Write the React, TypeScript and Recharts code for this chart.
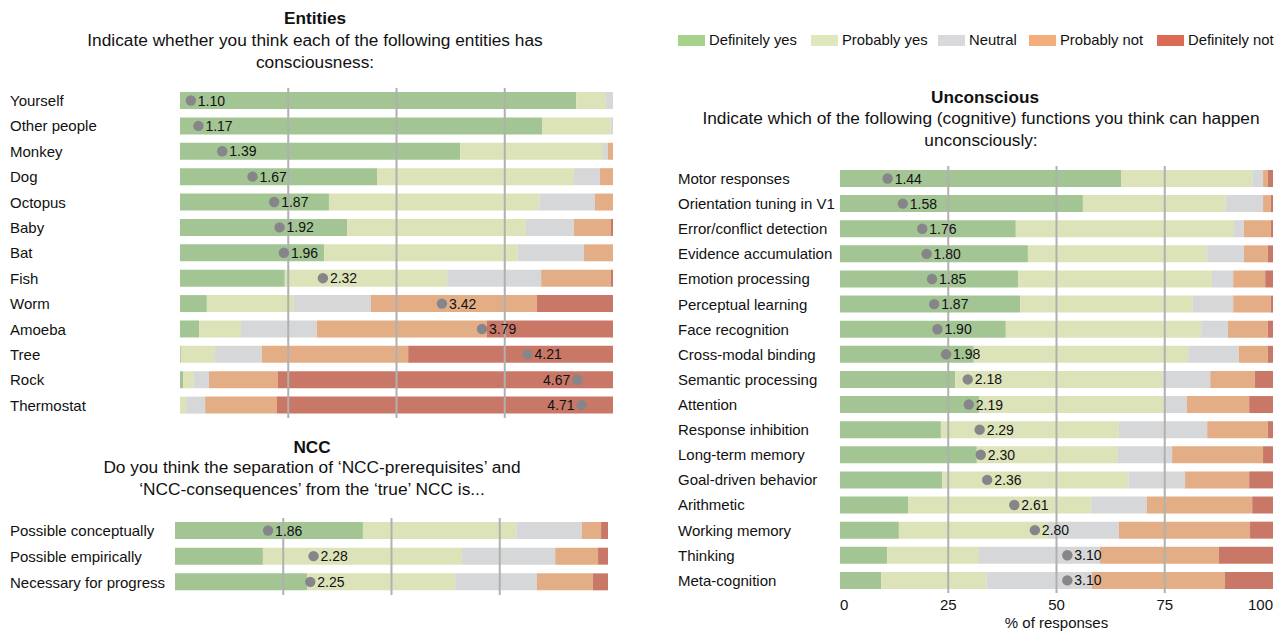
import React from 'react';
import { ComposedChart, Bar, XAxis, YAxis, ReferenceLine, Rectangle, LabelList } from 'recharts';

const levels = ['Definitely yes', 'Probably yes', 'Neutral', 'Probably not', 'Definitely not'];
const levelKeys = ['dy', 'py', 'n', 'pn', 'dn'];
const barColors = ['#a3c594', '#dde3b9', '#d6d7d8', '#e3ae86', '#c97868'];
const legendColors = ['#a6d28b', '#dfe7bc', '#d9d9dc', '#f3ae7b', '#dc6a55'];
const legendLeft = [678, 811, 938, 1029, 1157];
const gridTicks = [25, 50, 75];
const axisTicks = [0, 25, 50, 75, 100];

// Entities panel (% of responses)
const entityNames = ['Yourself', 'Other people', 'Monkey', 'Dog', 'Octopus', 'Baby', 'Bat', 'Fish', 'Worm', 'Amoeba', 'Tree', 'Rock', 'Thermostat'];
const entityDY = [91.5, 83.6, 64.7, 45.5, 34.4, 38.6, 33.3, 24.2, 6.2, 4.4, 0.2, 0.7, 0];
const entityPY = [6.9, 15.9, 33.0, 45.5, 48.6, 41.3, 44.7, 37.5, 20.1, 9.7, 7.9, 2.5, 1.4];
const entityN = [1.6, 0.5, 1.1, 6.0, 12.8, 11.1, 15.3, 21.7, 17.8, 17.5, 10.8, 3.5, 4.4];
const entityPN = [0, 0, 1.2, 3.0, 4.2, 8.5, 6.7, 16.1, 38.3, 39.3, 33.8, 15.9, 16.6];
const entityDN = [0, 0, 0, 0, 0, 0.5, 0, 0.5, 17.6, 29.1, 47.3, 77.4, 77.6];
const entityMean = [1.10, 1.17, 1.39, 1.67, 1.87, 1.92, 1.96, 2.32, 3.42, 3.79, 4.21, 4.67, 4.71];

// NCC panel
const nccNames = ['Possible conceptually', 'Possible empirically', 'Necessary for progress'];
const nccDY = [43.4, 20.3, 30.5];
const nccPY = [35.4, 46.0, 34.2];
const nccN = [15.2, 21.5, 18.9];
const nccPN = [4.4, 9.9, 12.9];
const nccDN = [1.6, 2.3, 3.5];
const nccMean = [1.86, 2.28, 2.25];

// Unconscious panel
const uncNames = ['Motor responses', 'Orientation tuning in V1', 'Error/conflict detection', 'Evidence accumulation', 'Emotion processing', 'Perceptual learning', 'Face recognition', 'Cross-modal binding', 'Semantic processing', 'Attention', 'Response inhibition', 'Long-term memory', 'Goal-driven behavior', 'Arithmetic', 'Working memory', 'Thinking', 'Meta-cognition'];
const uncDY = [64.9, 56.1, 40.6, 43.4, 41.1, 41.6, 38.3, 30.9, 26.6, 32.1, 23.3, 31.6, 23.6, 15.7, 13.6, 10.9, 9.5];
const uncPY = [30.3, 33.0, 50.4, 41.4, 44.8, 39.9, 45.1, 49.5, 47.8, 42.7, 41.1, 32.6, 43.1, 42.3, 34.4, 21.2, 24.4];
const uncN = [2.5, 8.6, 2.3, 8.5, 4.9, 9.3, 6.2, 11.7, 11.1, 5.3, 20.4, 12.5, 13.0, 12.9, 16.4, 27.9, 24.3];
const uncPN = [1.1, 1.8, 6.2, 5.5, 7.4, 8.7, 9.2, 6.7, 10.3, 14.4, 14.0, 21.0, 14.8, 24.3, 30.3, 27.5, 30.7];
const uncDN = [1.2, 0.5, 0.5, 1.2, 1.8, 0.5, 1.2, 1.2, 4.2, 5.5, 1.2, 2.3, 5.5, 4.8, 5.3, 12.5, 11.1];
const uncMean = [1.44, 1.58, 1.76, 1.80, 1.85, 1.87, 1.90, 1.98, 2.18, 2.19, 2.29, 2.30, 2.36, 2.61, 2.80, 3.10, 3.10];

const FONT = '"Liberation Sans", Arial, Helvetica, sans-serif';

function buildRows(names: string[], series: number[][], means: number[]) {
  return names.map((name, i) => {
    const row: any = { name, mean: means[i] };
    levelKeys.forEach((k, j) => { row[k] = series[j][i]; });
    return row;
  });
}

const entityRows = buildRows(entityNames, [entityDY, entityPY, entityN, entityPN, entityDN], entityMean);
const nccRows = buildRows(nccNames, [nccDY, nccPY, nccN, nccPN, nccDN], nccMean);
const uncRows = buildRows(uncNames, [uncDY, uncPY, uncN, uncPN, uncDN], uncMean);

// dot + value at the end of the invisible mean bar (drawn as a label so it sits above the grid lines)
function MeanDot(props: any) {
  const { x, y, width, height, value } = props;
  const cx = Number(x) + Number(width);
  const cy = Number(y) + Number(height) / 2;
  const v = Number(value);
  const left = v > 4.5;
  return (
    <g>
      <circle cx={cx} cy={cy} r={5.2} fill="#86858a" />
      <text x={left ? cx - 7 : cx + 7} y={cy} dy="0.36em" textAnchor={left ? 'end' : 'start'} fontSize={14} fill="#111">
        {v.toFixed(2)}
      </text>
    </g>
  );
}

type PanelProps = {
  data: any[];
  width: number;
  height: number;
  axisWidth: number;
  labelX: number;
  right: number;
  showAxis?: boolean;
};

function Panel({ data, width, height, axisWidth, labelX, right, showAxis }: PanelProps) {
  return (
    <ComposedChart
      width={width}
      height={height}
      data={data}
      layout="vertical"
      margin={{ top: 0, right, bottom: 0, left: 0 }}
    >
      <XAxis
        type="number"
        domain={[0, 100]}
        ticks={axisTicks}
        hide={!showAxis}
        height={40}
        axisLine={false}
        tickLine={false}
        tickSize={0}
        tickMargin={6}
        tick={(p: any) => {
          const v = p.payload.value;
          return (
            <text x={p.x} y={p.y} dy="0.71em" fontSize={15} fill="#111"
              textAnchor={v === 0 ? 'start' : v === 100 ? 'end' : 'middle'}>
              {v}
            </text>
          );
        }}
        label={{ value: '% of responses', position: 'insideBottom', offset: 5, fontSize: 15, fill: '#111' }}
      />
      <XAxis xAxisId="m" type="number" domain={[1, 5]} hide />
      <YAxis
        type="category"
        dataKey="name"
        width={axisWidth}
        axisLine={false}
        tickLine={false}
        interval={0}
        tick={(p: any) => (
          <text x={labelX} y={p.y} dy="0.36em" fontSize={15} fill="#111" textAnchor="start">
            {p.payload.value}
          </text>
        )}
      />
      <YAxis yAxisId="m" type="category" dataKey="name" hide />
      {levelKeys.map((k, j) => (
        <Bar
          key={k}
          dataKey={k}
          name={levels[j]}
          stackId="s"
          fill={barColors[j]}
          barSize={17}
          isAnimationActive={false}
          shape={(p: any) => <Rectangle {...p} stroke="none" />}
        />
      ))}
      {gridTicks.map((t) => (
        <ReferenceLine key={t} x={t} stroke="#b0b0b0" strokeWidth={2} />
      ))}
      <Bar
        dataKey="mean"
        xAxisId="m"
        yAxisId="m"
        barSize={17}
        fill="none"
        isAnimationActive={false}
        shape={() => <g />}
      >
        <LabelList dataKey="mean" content={(p: any) => <MeanDot {...p} />} />
      </Bar>
    </ComposedChart>
  );
}

const titleStyle: React.CSSProperties = {
  position: 'absolute',
  textAlign: 'center',
  fontWeight: 'bold',
  fontSize: 17.2,
  lineHeight: '20px',
};
const subStyle: React.CSSProperties = {
  position: 'absolute',
  textAlign: 'center',
  fontSize: 17.3,
  lineHeight: '21.5px',
};

export default function App() {
  return (
    <div style={{ position: 'relative', width: 1285, height: 633, background: '#fff', fontFamily: FONT, color: '#111' }}>
      <style>{'body{margin:0;}'}</style>

      <div style={{ ...titleStyle, left: 0, width: 630, top: 8 }}>Entities</div>
      <div style={{ ...subStyle, left: 0, width: 630, top: 30 }}>
        Indicate whether you think each of the following entities has<br />consciousness:
      </div>

      <div style={{ ...titleStyle, left: 0, width: 624, top: 437 }}>NCC</div>
      <div style={{ ...subStyle, left: 0, width: 624, top: 457 }}>
        Do you think the separation of ‘NCC-prerequisites’ and<br />‘NCC-consequences’ from the ‘true’ NCC is...
      </div>

      <div style={{ ...titleStyle, left: 670, width: 630, top: 87 }}>Unconscious</div>
      <div style={{ ...subStyle, left: 666, width: 630, top: 108 }}>
        Indicate which of the following (cognitive) functions you think can happen<br />unconsciously:
      </div>

      {/* legend */}
      {levels.map((l, i) => (
        <div key={l} style={{ position: 'absolute', left: legendLeft[i], top: 31, display: 'flex', alignItems: 'center', fontSize: 14.8, lineHeight: '18px', whiteSpace: 'nowrap' }}>
          <div style={{ width: 27, height: 11, background: legendColors[i], marginRight: 4 }} />
          <span>{l}</span>
        </div>
      ))}

      <div style={{ position: 'absolute', left: 0, top: 88 }}>
        <Panel data={entityRows} width={620} height={330} axisWidth={180} labelX={10} right={7} />
      </div>
      <div style={{ position: 'absolute', left: 0, top: 518 }}>
        <Panel data={nccRows} width={620} height={77} axisWidth={175} labelX={10} right={12} />
      </div>
      <div style={{ position: 'absolute', left: 670, top: 166 }}>
        <Panel data={uncRows} width={615} height={467} axisWidth={170} labelX={8} right={12} showAxis />
      </div>
    </div>
  );
}
